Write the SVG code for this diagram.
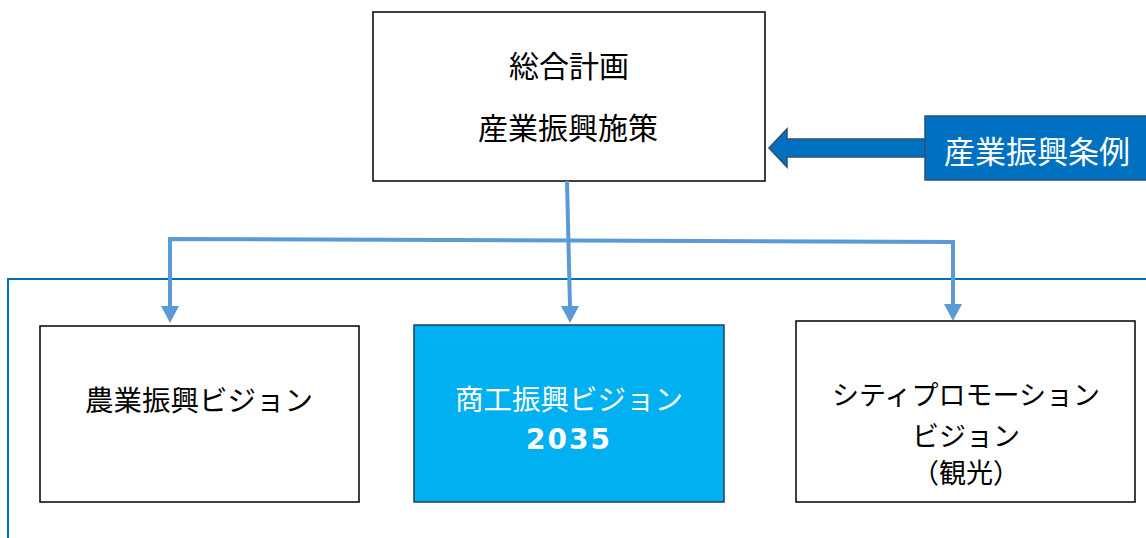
<svg xmlns="http://www.w3.org/2000/svg" width="1146" height="538" viewBox="0 0 1146 538">
<defs>
<style>
.box{fill:#ffffff;stroke:#000000;stroke-width:1.5}
.t{font-family:"Noto Sans CJK JP","Noto Sans",sans-serif;fill:#000000;text-anchor:middle;dominant-baseline:central}
.w{fill:#ffffff}
.conn{fill:none;stroke:#5b9bd5;stroke-width:4}
.head{fill:#5b9bd5}
</style>
</defs>
<rect width="1146" height="538" fill="#ffffff"/>
<path d="M8,538 L8,279 L1146,279" fill="none" stroke="#0070c0" stroke-width="2"/>
<g id="plan">
<rect class="box" x="373" y="12" width="392" height="169"/>
<text class="t" x="569" y="64" style="font-size:30px">総合計画</text>
<text class="t" x="568" y="126" style="font-size:30px">産業振興施策</text>
</g>
<g id="ordinance">
<path d="M925,139 L787,139 L787,129 L769,148 L787,167 L787,157 L925,157" fill="#0070c0" stroke="#2f4f6f" stroke-width="1.5"/>
<rect x="925" y="116" width="225" height="64" fill="#0070c0" stroke="#2f4f6f" stroke-width="1.5"/>
<text class="t w" x="1037" y="149" style="font-size:31px">産業振興条例</text>
</g>
<g id="connectors">
<path class="conn" d="M567,181 L570,307"/>
<path class="head" d="M561,306 L579,306 L570,323 Z"/>
<path class="conn" d="M170,306 L170,239 L953,242 L953,305"/>
<path class="head" d="M161,306 L179,306 L170,323 Z"/>
<path class="head" d="M944,304 L962,304 L953,321 Z"/>
</g>
<g id="agri">
<rect class="box" x="40" y="326" width="319" height="176"/>
<text class="t" x="199" y="398" style="font-size:28.5px">農業振興ビジョン</text>
</g>
<g id="commerce">
<rect x="414" y="325" width="310" height="177" fill="#00b0f0" stroke="#1f3f5f" stroke-width="1.5"/>
<text class="t w" x="569" y="397" style="font-size:28.5px">商工振興ビジョン</text>
<text class="t w" x="569" y="439" style="font-family:'DejaVu Sans',sans-serif;font-size:28px;font-weight:bold;letter-spacing:2px">2035</text>
</g>
<g id="city">
<rect class="box" x="796" y="321" width="339" height="181"/>
<text class="t" x="966" y="393" style="font-size:27px">シティプロモーション</text>
<text class="t" x="966" y="434" style="font-size:27px">ビジョン</text>
<text class="t" x="966" y="471" style="font-size:27px">（観光）</text>
</g>
</svg>
